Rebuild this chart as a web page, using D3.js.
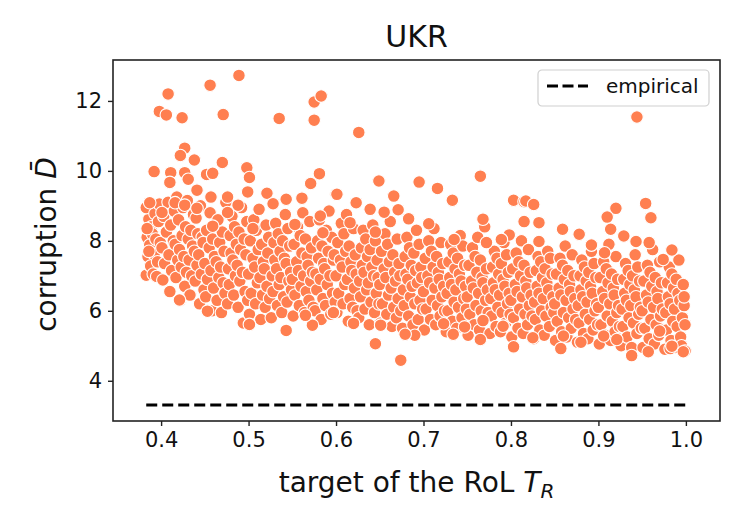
<!DOCTYPE html>
<html>
<head>
<meta charset="utf-8">
<script src="https://cdn.jsdelivr.net/npm/d3@7"></script>
<style>
  body { margin: 0; background: #fff; }
  svg { font-family: "DejaVu Sans", sans-serif; }
</style>
</head>
<body>
<svg id="chart"></svg>
<script>
// tick labels
const xTicks = [0.4, 0.5, 0.6, 0.7, 0.8, 0.9, 1.0];
const yTicks = [4, 6, 8, 10, 12];

// empirical level (dashed line), drawn over the span of T_R values
const empiricalD = 3.31;
const empiricalSpan = [0.383, 1.0];

// simulated runs, [T_R, D] pairs
const runsLow = [
  [0.383,7.02],[0.385,7.55],[0.384,8.10],[0.386,8.62],[0.383,8.95],[0.388,7.28],[0.387,7.88],[0.389,8.40],[0.391,7.05],[0.392,7.62],
  [0.390,8.20],[0.393,8.78],[0.395,6.98],[0.396,7.40],[0.394,8.05],[0.397,8.55],[0.398,9.05],[0.386,7.70],[0.399,7.95],[0.384,8.35],
  [0.402,6.88],[0.404,7.35],[0.401,7.80],[0.406,8.25],[0.403,8.70],[0.408,9.10],[0.410,6.55],[0.412,7.15],[0.409,7.60],[0.414,8.00],
  [0.411,8.45],[0.415,8.85],[0.417,6.95],[0.419,7.45],[0.416,7.90],[0.420,8.60],[0.418,9.25],[0.422,6.30],[0.423,7.25],[0.421,7.75],
  [0.424,8.15],[0.425,8.95],
  [0.427,6.70],[0.429,7.10],[0.426,7.55],[0.431,8.05],[0.428,8.40],[0.430,9.15],[0.433,6.45],[0.435,7.00],[0.432,7.45],[0.436,7.85],
  [0.434,8.30],[0.437,8.75],[0.439,6.85],[0.441,7.30],[0.438,7.70],[0.442,8.20],[0.440,8.65],[0.444,6.20],[0.446,7.05],[0.443,7.60],
  [0.447,8.10],[0.445,9.00],[0.449,6.60],[0.448,7.95],
  [0.451,6.40],[0.453,6.90],[0.450,7.35],[0.455,7.80],[0.452,8.30],[0.456,8.80],[0.458,6.00],[0.460,6.65],[0.457,7.15],[0.461,7.55],
  [0.459,8.05],[0.462,8.50],[0.464,6.30],[0.466,6.95],[0.463,7.40],[0.467,7.95],[0.465,8.60],[0.469,5.95],[0.471,6.80],[0.468,7.25],
  [0.472,7.70],[0.470,8.25],[0.474,9.10],[0.473,6.50],
  [0.476,6.20],[0.478,6.75],[0.477,7.20],[0.480,7.65],[0.479,8.15],[0.481,8.70],[0.483,6.45],[0.485,7.00],[0.482,7.45],[0.486,7.90],
  [0.484,8.40],[0.488,6.10],[0.490,6.85],[0.487,7.30],[0.491,7.75],[0.489,8.25],[0.492,8.95],[0.494,5.65],[0.496,6.55],[0.493,7.10],
  [0.497,7.60],[0.495,8.05],[0.499,6.30],[0.498,8.55],
  [0.501,5.90],[0.503,6.50],[0.500,7.05],[0.505,7.50],[0.502,8.00],[0.506,8.60],[0.508,6.20],[0.510,6.80],[0.507,7.25],[0.511,7.75],
  [0.509,8.30],[0.512,8.90],[0.514,5.75],[0.516,6.45],[0.513,6.95],[0.517,7.40],[0.515,7.90],[0.519,6.10],[0.521,6.70],[0.518,7.20],
  [0.522,7.65],[0.520,8.45],[0.524,6.35],[0.523,8.10],
  [0.526,5.80],[0.528,6.55],[0.527,7.00],[0.530,7.45],[0.529,7.95],[0.531,8.50],[0.533,6.15],[0.535,6.75],[0.532,7.20],[0.536,7.70],
  [0.534,8.20],[0.538,5.95],[0.540,6.40],[0.537,6.95],[0.541,7.50],[0.539,8.00],[0.542,8.75],[0.544,6.25],[0.546,6.85],[0.543,7.35],
  [0.547,7.85],[0.545,8.35],[0.549,6.60],[0.548,7.10]
];

const runsMid = [
  [0.551,5.85],[0.553,6.45],[0.550,6.90],[0.555,7.40],[0.552,7.90],[0.556,8.40],[0.558,6.15],[0.560,6.70],[0.557,7.15],[0.561,7.65],
  [0.559,8.15],[0.562,8.80],[0.564,5.95],[0.566,6.55],[0.563,7.00],[0.567,7.55],[0.565,8.05],[0.569,6.30],[0.571,6.85],[0.568,7.30],
  [0.572,7.80],[0.570,8.55],[0.574,6.10],[0.573,7.10],
  [0.576,6.00],[0.578,6.60],[0.577,7.05],[0.580,7.50],[0.579,8.00],[0.581,8.60],[0.583,5.75],[0.585,6.35],[0.582,6.90],[0.586,7.35],
  [0.584,7.85],[0.588,6.15],[0.590,6.75],[0.587,7.20],[0.591,7.70],[0.589,8.30],[0.592,8.85],[0.594,5.90],[0.596,6.50],[0.593,7.00],
  [0.597,7.45],[0.595,8.10],[0.599,6.25],[0.598,7.60],
  [0.601,5.95],[0.603,6.50],[0.600,7.00],[0.605,7.45],[0.602,7.95],[0.606,8.50],[0.608,6.20],[0.610,6.75],[0.607,7.25],[0.611,7.70],
  [0.609,8.20],[0.612,8.75],[0.614,5.70],[0.616,6.35],[0.613,6.90],[0.617,7.40],[0.615,7.85],[0.619,6.10],[0.621,6.65],[0.618,7.15],
  [0.622,7.60],[0.620,8.35],[0.624,6.00],[0.623,7.05],
  [0.626,5.80],[0.628,6.40],[0.627,6.85],[0.630,7.30],[0.629,7.80],[0.631,8.30],[0.633,6.05],[0.635,6.60],[0.632,7.10],[0.636,7.55],
  [0.634,8.05],[0.638,5.60],[0.640,6.25],[0.637,6.80],[0.641,7.25],[0.639,7.75],[0.642,8.45],[0.644,5.95],[0.646,6.50],[0.643,7.00],
  [0.647,7.45],[0.645,8.00],[0.649,6.20],[0.648,6.95],
  [0.651,5.65],[0.653,6.20],[0.650,6.75],[0.655,7.20],[0.652,7.70],[0.656,8.20],[0.658,5.90],[0.660,6.45],[0.657,6.95],[0.661,7.40],
  [0.659,7.90],[0.662,8.55],[0.664,5.55],[0.666,6.10],[0.663,6.65],[0.667,7.10],[0.665,7.60],[0.669,5.80],[0.671,6.35],[0.668,6.85],
  [0.672,7.35],[0.670,8.05],[0.674,6.00],[0.673,7.00],
  [0.676,5.50],[0.678,6.15],[0.677,6.60],[0.680,7.05],[0.679,7.55],[0.681,8.10],[0.683,5.85],[0.685,6.40],[0.682,6.90],[0.686,7.30],
  [0.684,7.80],[0.688,5.60],[0.690,6.20],[0.687,6.70],[0.691,7.15],[0.689,7.65],[0.692,8.30],[0.694,5.75],[0.696,6.30],[0.693,6.80],
  [0.697,7.25],[0.695,7.90],[0.699,6.05],[0.698,6.95],
  [0.701,5.45],[0.703,6.05],[0.700,6.55],[0.705,7.00],[0.702,7.50],[0.706,8.00],[0.708,5.75],[0.710,6.30],[0.707,6.80],[0.711,7.25],
  [0.709,7.70],[0.712,8.35],[0.714,5.60],[0.716,6.15],[0.713,6.65],[0.717,7.10],[0.715,7.55],[0.719,5.85],[0.721,6.40],[0.718,6.90],
  [0.722,7.35],[0.720,7.95],[0.724,6.00],[0.723,6.70],
  [0.726,5.40],[0.728,6.00],[0.727,6.50],[0.730,6.95],[0.729,7.40],[0.731,7.90],[0.733,5.70],[0.735,6.25],[0.732,6.75],[0.736,7.20],
  [0.734,7.65],[0.738,5.50],[0.740,6.10],[0.737,6.60],[0.741,7.05],[0.739,7.50],[0.742,8.15],[0.744,5.80],[0.746,6.35],[0.743,6.85],
  [0.747,7.30],[0.745,7.85],[0.749,6.05],[0.748,6.70]
];

const runsHigh = [
  [0.751,5.30],[0.753,5.90],[0.750,6.40],[0.755,6.85],[0.752,7.30],[0.756,7.80],[0.758,5.60],[0.760,6.15],[0.757,6.65],[0.761,7.10],
  [0.759,7.55],[0.762,8.10],[0.764,5.45],[0.766,6.00],[0.763,6.50],[0.767,6.95],[0.765,7.45],[0.769,5.75],[0.771,6.30],[0.768,6.80],
  [0.772,7.20],[0.770,8.40],[0.774,5.95],[0.773,6.60],
  [0.776,5.35],[0.778,5.85],[0.777,6.35],[0.780,6.80],[0.779,7.25],[0.781,7.70],[0.783,5.55],[0.785,6.10],[0.782,6.60],[0.786,7.05],
  [0.784,7.50],[0.788,5.40],[0.790,5.95],[0.787,6.45],[0.791,6.90],[0.789,7.35],[0.792,7.95],[0.794,5.65],[0.796,6.20],[0.793,6.70],
  [0.797,7.10],[0.795,7.60],[0.799,5.90],[0.798,6.50],
  [0.801,5.25],[0.803,5.80],[0.800,6.30],[0.805,6.75],[0.802,7.20],[0.806,7.65],[0.808,5.50],[0.810,6.05],[0.807,6.55],[0.811,7.00],
  [0.809,7.40],[0.812,8.00],[0.814,5.35],[0.816,5.90],[0.813,6.40],[0.817,6.85],[0.815,7.30],[0.819,5.60],[0.821,6.15],[0.818,6.65],
  [0.822,7.10],[0.820,7.75],[0.824,5.85],[0.823,6.45],
  [0.826,5.20],[0.828,5.75],[0.827,6.25],[0.830,6.70],[0.829,7.15],[0.831,7.55],[0.833,5.45],[0.835,6.00],[0.832,6.50],[0.836,6.95],
  [0.834,7.40],[0.838,5.30],[0.840,5.85],[0.837,6.35],[0.841,6.80],[0.839,7.20],[0.842,7.70],[0.844,5.55],[0.846,6.10],[0.843,6.60],
  [0.847,7.05],[0.845,7.50],[0.849,5.95],[0.848,6.40],
  [0.851,5.15],[0.853,5.70],[0.850,6.20],[0.855,6.65],[0.852,7.05],[0.856,7.50],[0.858,5.40],[0.860,5.95],[0.857,6.45],[0.861,6.90],
  [0.859,7.30],[0.862,7.85],[0.864,5.25],[0.866,5.80],[0.863,6.30],[0.867,6.75],[0.865,7.15],[0.869,5.50],[0.871,6.05],[0.868,6.55],
  [0.872,7.00],[0.870,7.60],[0.874,5.75],[0.873,6.35],
  [0.876,5.10],[0.878,5.65],[0.877,6.15],[0.880,6.60],[0.879,7.00],[0.881,7.45],[0.883,5.35],[0.885,5.90],[0.882,6.40],[0.886,6.85],
  [0.884,7.25],[0.888,5.20],[0.890,5.75],[0.887,6.25],[0.891,6.70],[0.889,7.10],[0.892,7.70],[0.894,5.45],[0.896,6.00],[0.893,6.50],
  [0.897,6.95],[0.895,7.35],[0.899,5.60],[0.898,6.20],
  [0.901,5.05],[0.903,5.60],[0.900,6.10],[0.905,6.55],[0.902,6.95],[0.906,7.40],[0.908,5.30],[0.910,5.85],[0.907,6.35],[0.911,6.80],
  [0.909,7.20],[0.912,7.90],[0.914,5.15],[0.916,5.70],[0.913,6.20],[0.917,6.65],[0.915,7.05],[0.919,5.40],[0.921,5.95],[0.918,6.45],
  [0.922,6.90],[0.920,7.55],[0.924,5.55],[0.923,6.15],
  [0.926,5.00],[0.928,5.55],[0.927,6.05],[0.930,6.50],[0.929,6.90],[0.931,7.35],[0.933,5.25],[0.935,5.80],[0.932,6.30],[0.936,6.75],
  [0.934,7.15],[0.938,4.95],[0.940,5.65],[0.937,6.15],[0.941,6.60],[0.939,7.00],[0.942,7.60],[0.944,5.35],[0.946,5.90],[0.943,6.40],
  [0.947,6.85],[0.945,7.25],[0.949,5.50],[0.948,6.10],
  [0.951,4.95],[0.953,5.50],[0.950,6.00],[0.955,6.45],[0.952,6.85],[0.956,7.30],[0.958,5.20],[0.960,5.75],[0.957,6.25],[0.961,6.70],
  [0.959,7.10],[0.962,7.75],[0.964,5.05],[0.966,5.60],[0.963,6.10],[0.967,6.55],[0.965,6.95],[0.969,5.30],[0.971,5.85],[0.968,6.35],
  [0.972,6.80],[0.970,7.40],[0.974,5.45],[0.973,6.05],
  [0.976,4.90],[0.978,5.45],[0.977,5.95],[0.980,6.40],[0.979,6.80],[0.981,7.25],[0.983,5.15],[0.985,5.70],[0.982,6.20],[0.986,6.65],
  [0.984,7.05],[0.988,4.95],[0.990,5.55],[0.987,6.05],[0.991,6.50],[0.989,6.90],[0.992,7.45],[0.994,5.25],[0.996,5.80],[0.993,6.30],
  [0.997,6.75],[0.995,5.00],[0.999,5.60],[0.998,6.15],[0.999,4.85],[0.998,6.40]
];

// scattered runs well above / below the main cloud
const runsSpread = [
  [0.489,12.73],[0.456,12.45],[0.408,12.20],[0.398,11.70],[0.406,11.60],[0.424,11.52],[0.471,11.61],[0.535,11.50],
  [0.575,11.97],[0.583,12.14],[0.575,11.45],[0.626,11.10],[0.944,11.54],
  [0.427,10.65],[0.422,10.44],[0.438,10.31],[0.470,10.24],[0.392,9.98],[0.411,9.95],[0.427,9.95],[0.410,9.67],[0.431,9.76],
  [0.452,9.90],[0.459,9.93],[0.498,10.09],[0.501,9.81],[0.441,9.45],[0.499,9.40],[0.581,9.92],[0.571,9.64],[0.561,9.22],
  [0.600,9.33],[0.521,9.36],[0.649,9.71],[0.695,9.68],[0.716,9.50],[0.733,9.16],[0.765,9.85],[0.666,9.28],[0.601,9.33],
  [0.623,9.09],[0.639,8.90],[0.655,8.82],[0.671,8.89],[0.683,8.63],[0.706,8.49],[0.803,9.16],[0.815,9.12],[0.815,8.55],
  [0.817,9.14],[0.826,9.04],[0.832,8.52],[0.832,7.98],[0.859,8.33],[0.878,8.19],[0.892,7.88],[0.920,8.93],[0.910,8.68],
  [0.914,8.33],[0.929,8.14],[0.943,7.98],[0.954,9.07],[0.960,8.66],[0.958,7.95],[0.984,7.74],[0.974,7.47],[0.907,7.66],
  [0.387,9.09],[0.401,8.81],[0.416,9.09],[0.427,9.02],[0.441,8.93],[0.457,9.25],[0.476,9.25],[0.488,9.02],[0.476,8.81],
  [0.512,8.90],[0.528,9.06],[0.543,9.19],[0.459,8.42],[0.505,8.35],[0.553,8.47],[0.582,8.71],[0.585,8.23],
  [0.616,8.52],[0.645,8.25],[0.735,8.04],[0.772,7.95],[0.798,8.17],[0.768,8.62],[0.789,8.04],
  [0.645,5.06],[0.674,4.59],[0.620,5.64],[0.734,5.33],[0.765,5.18],[0.803,4.97],
  [0.421,6.31],[0.453,5.99],[0.501,5.61],[0.543,5.44],[0.573,5.59],[0.565,5.87],[0.597,5.96],
  [0.857,4.92],[0.880,5.10],[0.938,4.72],[0.957,4.83],[0.982,4.92],[0.997,4.83],[0.825,5.23],
  [0.651,5.59],[0.690,5.30],[0.723,5.63],[0.747,5.54],[0.768,5.72],[0.791,5.56],[0.597,5.95],[0.679,5.33],
  [0.860,5.28],[0.906,5.28],[0.921,5.18],[0.970,5.42],[0.984,4.99]
];

class ScatterChart {

    constructor( config, data ) {
        this.config = {
            parent: config.parent,
            width: config.width || 750,
            height: config.height || 525,
            margin: config.margin || {top:60, right:30, bottom:104, left:113},
            title: config.title || '',
            color: config.color || 'coral'
        }
        this.data = data;
        this.init();
    }

    init() {
        let self = this;

        self.svg = d3.select( self.config.parent )
            .attr('width', self.config.width)
            .attr('height', self.config.height);

        self.inner_width = self.config.width - self.config.margin.left - self.config.margin.right;
        self.inner_height = self.config.height - self.config.margin.top - self.config.margin.bottom;

        self.chart = self.svg.append('g')
            .attr('transform', `translate(${self.config.margin.left}, ${self.config.margin.top})`);

        // matplotlib-like 5% padding around the data
        self.xscale = d3.scaleLinear()
            .domain([0.345, 1.039])
            .range([0, self.inner_width]);

        self.yscale = d3.scaleLinear()
            .domain([2.85, 13.17])
            .range([self.inner_height, 0]);

        self.xaxis = d3.axisBottom( self.xscale )
            .tickValues(xTicks)
            .tickFormat(d3.format('.1f'))
            .tickSize(5)
            .tickPadding(6);

        self.yaxis = d3.axisLeft( self.yscale )
            .tickValues(yTicks)
            .tickFormat(d3.format('d'))
            .tickSize(5)
            .tickPadding(6);
    }

    render() {
        let self = this;

        self.chart.selectAll('.dot')
            .data(self.data)
            .enter().append('circle')
            .attr('class', 'dot')
            .attr('cx', d => self.xscale(d[0]))
            .attr('cy', d => self.yscale(d[1]))
            .attr('r', 6.3)
            .attr('fill', self.config.color)
            .attr('stroke', 'white')
            .attr('stroke-width', 1.1);

        self.chart.append('line')
            .attr('x1', self.xscale(empiricalSpan[0]))
            .attr('x2', self.xscale(empiricalSpan[1]))
            .attr('y1', self.yscale(empiricalD))
            .attr('y2', self.yscale(empiricalD))
            .attr('stroke', 'black')
            .attr('stroke-width', 3)
            .attr('stroke-dasharray', '11,5');

        // frame
        self.chart.append('rect')
            .attr('width', self.inner_width)
            .attr('height', self.inner_height)
            .attr('fill', 'none')
            .attr('stroke', '#222')
            .attr('stroke-width', 1.6);

        const xg = self.chart.append('g')
            .attr('transform', `translate(0, ${self.inner_height})`)
            .call( self.xaxis );
        const yg = self.chart.append('g')
            .call( self.yaxis );

        [xg, yg].forEach(g => {
            g.select('.domain').remove();
            g.selectAll('.tick line').attr('stroke', '#222').attr('stroke-width', 1.4);
            g.selectAll('.tick text')
                .attr('fill', '#111')
                .attr('font-size', '21px')
                .attr('font-family', '"DejaVu Sans", sans-serif');
        });

        // title
        self.chart.append('text')
            .attr('x', self.inner_width / 2)
            .attr('y', -13)
            .attr('text-anchor', 'middle')
            .attr('font-size', '30px')
            .attr('fill', '#111')
            .text(self.config.title);

        // x label
        const xl = self.chart.append('text')
            .attr('x', self.inner_width / 2)
            .attr('y', self.inner_height + 71)
            .attr('text-anchor', 'middle')
            .attr('font-size', '28px')
            .attr('fill', '#111');
        xl.append('tspan').text('target of the RoL ');
        xl.append('tspan').attr('font-style', 'italic').text('T');
        xl.append('tspan').attr('font-style', 'italic').attr('font-size', '20px').attr('dy', 6).text('R');

        // y label
        const yl = self.chart.append('text')
            .attr('transform', `translate(-57, ${self.inner_height / 2 + 4}) rotate(-90)`)
            .attr('text-anchor', 'middle')
            .attr('font-size', '28px')
            .attr('fill', '#111');
        yl.append('tspan').text('corruption ');
        yl.append('tspan').attr('font-style', 'italic').text('D\u0304');

        // legend
        const lg = self.chart.append('g')
            .attr('transform', `translate(${self.inner_width - 182}, 10)`);
        lg.append('rect')
            .attr('width', 171)
            .attr('height', 36)
            .attr('rx', 4)
            .attr('fill', 'white')
            .attr('fill-opacity', 0.8)
            .attr('stroke', '#d0d0d0')
            .attr('stroke-width', 1.2);
        lg.append('line')
            .attr('x1', 9).attr('x2', 50)
            .attr('y1', 16).attr('y2', 16)
            .attr('stroke', 'black')
            .attr('stroke-width', 3)
            .attr('stroke-dasharray', '11,4.5');
        lg.append('text')
            .attr('x', 68)
            .attr('y', 23)
            .attr('font-size', '20px')
            .attr('fill', '#111')
            .text('empirical');
    }
}

const chart = new ScatterChart({ parent: '#chart', title: 'UKR', color: '#ff7f50' },
    runsLow.concat(runsMid, runsHigh, runsSpread));
chart.render();
</script>
</body>
</html>
